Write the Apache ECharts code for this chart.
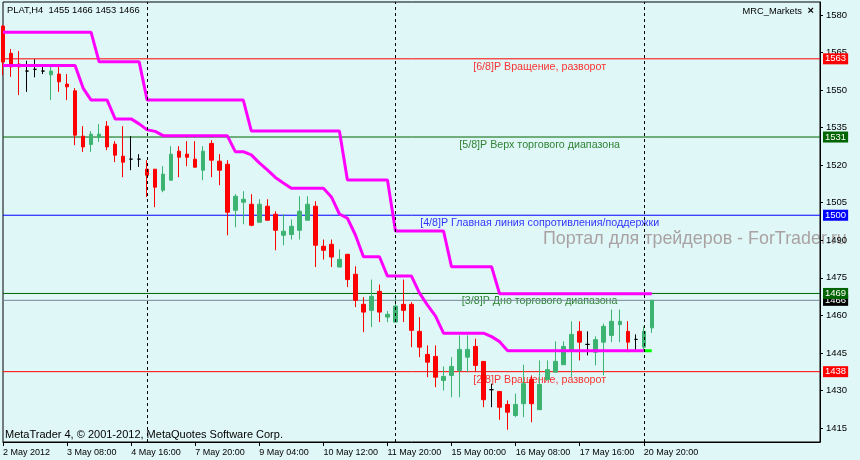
<!DOCTYPE html>
<html><head><meta charset="utf-8">
<script src="https://cdn.jsdelivr.net/npm/echarts@6/dist/echarts.min.js"></script>
<style>html,body{margin:0;padding:0;background:#E0F7F7}#c{width:860px;height:460px}</style>
</head><body><div id="c"></div>
<script>
const categories = [
"2 May 2012","2 May 04:00","2 May 08:00","2 May 12:00","2 May 16:00","2 May 20:00",
"3 May 00:00","3 May 04:00","3 May 08:00","3 May 12:00","3 May 16:00","3 May 20:00",
"4 May 00:00","4 May 04:00","4 May 08:00","4 May 12:00","4 May 16:00","4 May 20:00",
"6 May 20:00",
"7 May 00:00","7 May 04:00","7 May 08:00","7 May 12:00","7 May 16:00","7 May 20:00",
"8 May 00:00","8 May 04:00","8 May 08:00","8 May 12:00","8 May 16:00","8 May 20:00",
"9 May 00:00","9 May 04:00","9 May 08:00","9 May 12:00","9 May 16:00","9 May 20:00",
"10 May 00:00","10 May 04:00","10 May 08:00","10 May 12:00","10 May 16:00","10 May 20:00",
"11 May 00:00","11 May 04:00","11 May 08:00","11 May 12:00","11 May 16:00","11 May 20:00",
"13 May 20:00",
"14 May 00:00","14 May 04:00","14 May 08:00","14 May 12:00","14 May 16:00","14 May 20:00",
"15 May 00:00","15 May 04:00","15 May 08:00","15 May 12:00","15 May 16:00","15 May 20:00",
"16 May 00:00","16 May 04:00","16 May 08:00","16 May 12:00","16 May 16:00","16 May 20:00",
"17 May 00:00","17 May 04:00","17 May 08:00","17 May 12:00","17 May 16:00","17 May 20:00",
"18 May 00:00","18 May 04:00","18 May 08:00","18 May 12:00","18 May 16:00","18 May 20:00",
"20 May 20:00","21 May 00:00",
"21 May 04:00","21 May 08:00","21 May 12:00","21 May 16:00","21 May 20:00",
"22 May 00:00","22 May 04:00","22 May 08:00","22 May 12:00","22 May 16:00","22 May 20:00",
"23 May 00:00","23 May 04:00","23 May 08:00","23 May 12:00","23 May 16:00","23 May 20:00",
"24 May 00:00","24 May 04:00","24 May 08:00","24 May 12:00"
];
const opens  = [1575.6,1564.7,1560.4,1557.6,1558.3,1557.6,1556.1,1556.4,1552.4,1549.7,1531.6,1528.3,1531.3,1535.6,1528.4,1523.6,1522.4,1522.4,1518.4,1518.4,1510.0,1514.0,1525.6,1524.4,1522.4,1518.0,1528.7,1521.6,1520.4,1502.0,1505.2,1504.4,1497.2,1503.6,1500.4,1492.0,1492.3,1494.0,1498.0,1503.6,1487.6,1488.4,1479.3,1484.4,1476.4,1464.4,1462.0,1469.6,1459.3,1457.3,1464.4,1464.4,1453.6,1444.4,1443.6,1434.0,1436.0,1438.0,1443.3,1447.6,1441.6,1430.3,1429.6,1424.4,1420.0,1424.7,1434.3,1422.3,1434.3,1437.3,1440.3,1446.0,1453.6,1448.4,1445.3,1449.3,1452.0,1456.3,1453.6,1450.4,1447.3,1455];
const highs  = [1576.0,1566.4,1565.6,1561.7,1562.3,1559.3,1560.4,1559.6,1556.4,1550.8,1535.6,1533.6,1536.4,1537.6,1529.6,1535.6,1531.6,1524.4,1522.0,1518.4,1519.6,1527.6,1527.6,1529.6,1529.6,1527.6,1530.0,1524.4,1522.0,1508.4,1509.6,1508.4,1506.4,1506.4,1501.6,1500.4,1498.3,1507.6,1507.6,1505.6,1490.3,1490.3,1486.3,1484.4,1479.6,1467.3,1474.3,1472.3,1461.7,1467.6,1474.3,1465.3,1459.3,1448.0,1448.0,1439.6,1443.3,1452.0,1452.0,1450.7,1441.6,1432.7,1429.6,1426.0,1428.7,1440.3,1436.0,1442.0,1442.0,1449.6,1449.6,1457.6,1457.6,1453.6,1451.6,1456.7,1462.3,1462.3,1457.7,1452.4,1455.6,1466];
const lows   = [1556.0,1555.3,1548.0,1549.3,1555.1,1556.4,1546.0,1549.3,1546.0,1528.0,1525.3,1525.3,1529.3,1526.0,1521.2,1515.2,1518.0,1519.3,1507.3,1503.2,1509.2,1514.0,1515.2,1519.6,1519.2,1514.0,1515.2,1512.0,1492.0,1495.2,1496.4,1495.6,1497.2,1498.0,1486.0,1488.0,1490.3,1490.3,1498.0,1479.3,1482.3,1479.3,1479.3,1471.3,1463.3,1453.3,1455.3,1457.3,1457.3,1457.3,1457.3,1447.3,1443.3,1435.3,1431.3,1430.0,1427.3,1427.3,1437.3,1437.3,1423.3,1423.3,1418.3,1414.3,1419.3,1419.3,1417.3,1422.3,1434.3,1437.3,1440.3,1435.3,1442.0,1444.0,1440.0,1436.0,1449.3,1449.3,1445.3,1446.0,1445.7,1453];
const closes = [1561.2,1559.3,1559.3,1557.6,1558.3,1557.6,1557.6,1553.3,1551.3,1532.0,1527.3,1532.4,1532.4,1527.3,1524.0,1521.2,1522.4,1522.4,1516.0,1511.2,1516.4,1524.4,1523.2,1523.2,1519.2,1525.6,1522.0,1518.0,1501.2,1507.6,1506.4,1496.0,1504.4,1498.0,1494.0,1493.6,1495.6,1501.6,1504.4,1488.0,1486.0,1483.3,1482.4,1474.3,1466.0,1461.3,1467.6,1461.3,1460.4,1463.7,1462.0,1454.0,1447.3,1441.3,1435.3,1435.6,1439.6,1446.4,1446.4,1440.0,1426.3,1430.3,1423.3,1421.3,1424.4,1432.7,1424.7,1432.4,1438.3,1441.6,1447.6,1452.4,1449.3,1448.4,1450.3,1455.6,1457.6,1457.6,1449.3,1450.4,1453.6,1466];
const mrcUpper = [1573.1,1573.1,1573.1,1573.1,1573.1,1573.1,1573.1,1573.1,1573.1,1573.1,1573.1,1573.1,
1561.3,1561.3,1561.3,1561.3,1561.3,1561.3,
1546.0,1546.0,1546.0,1546.0,1546.0,1546.0,1546.0,1546.0,1546.0,1546.0,1546.0,1546.0,1546.0,
1533.7,1533.7,1533.7,1533.7,1533.7,1533.7,1533.7,1533.7,1533.7,1533.7,1533.7,1533.7,
1514.1,1514.1,1514.1,1514.1,1514.1,1514.1,
1493.7,1493.7,1493.7,1493.7,1493.7,1493.7,1493.7,
1479.4,1479.4,1479.4,1479.4,1479.4,1479.4,
1468.6,1468.6,1468.6,1468.6,1468.6,1468.6,1468.6,1468.6,1468.6,1468.6,1468.6,1468.6,1468.6,1468.6,1468.6,1468.6,1468.6,1468.6,1468.6,1468.6];
const mrcLower = [1559.8,1559.8,1559.8,1559.8,1559.8,1559.8,1559.8,1559.8,1559.8,1559.8,
1550.8,1546.0,1546.0,1546.0,1538.5,1538.5,1538.5,1536.5,1534.1,1533.5,
1531.8,1531.8,1531.8,1531.8,1531.8,1531.8,1531.8,1531.8,1531.8,
1525.4,1525.4,1524.1,1520.9,1518.1,1515.1,1512.9,
1510.8,1510.8,1510.8,1510.8,1510.8,
1507.3,1500.5,1498.8,1492.1,
1483.4,1483.4,1483.4,
1475.7,1475.7,1475.7,1475.7,
1468.9,1464.1,1459.7,
1452.9,1452.9,1452.9,1452.9,1452.9,1452.9,
1451.5,1449.5,
1445.9,1445.9,1445.9,1445.9,1445.9,1445.9,1445.9,1445.9,1445.9,1445.9,1445.9,1445.9,1445.9,1445.9,1445.9,1445.9,1445.9,1445.9];
const mrcTailBars = ["20 May 20:00","21 May 00:00"];
const mrcTailValues = [1445.9,1445.9];
const levelValues = [1562.5,1531.25,1500,1468.75,1466,1437.5];
const levelLabels = ["1563","1531","1500","1469","1466","1438"];
const levelLineColors = ["#ff0000","#006400","#0000ff","#006400","#778899","#ff0000"];
const levelBoxColors = ["#ff0000","#006400","#0000ff","#006400","#000000","#ff0000"];
const levelZ = [1,1,1,1.2,1.1,1];
const levelTexts = ["[6/8]P Вращение, разворот","[5/8]P Верх торгового диапазона","[4/8]P Главная линия сопротивления/поддержки","[3/8]P Дно торгового диапазона","[2/8]P Вращение, разворот"];
const levelTextValues = [1562.5,1531.25,1500,1468.75,1437.5];
const levelTextColors = ["#ff0000","#006400","#0000ff","#006400","#ff0000"];
const levelTextBar = "16 May 20:00";
const separators = ["6 May 20:00","13 May 20:00","20 May 20:00"];
const yTicks = [1415,1430,1445,1460,1475,1490,1505,1520,1535,1550,1565,1580];

const AX_FONT = "'Liberation Sans',Arial,sans-serif";
const TX_FONT = "'Liberation Sans',Arial,sans-serif";
const showBar = (i) => i % 8 === 0 && i <= 80;
const firstCat = categories[0], lastCat = categories[categories.length-1];

const chart = echarts.init(document.getElementById('c'), null, {renderer:'canvas'});
const candleData = opens.map((o,i)=>[o, closes[i], lows[i], highs[i]]);

const levelSeries = levelValues.map((v,i)=>({
  type:'line', silent:true, z:levelZ[i], symbol:'none', animation:false,
  data:[[firstCat, v],[lastCat, v]],
  lineStyle:{color:levelLineColors[i], width:1, type:'solid'},
  emphasis:{disabled:true},
  endLabel:{show:true, formatter:levelLabels[i], color:'#fff', backgroundColor:levelBoxColors[i],
    padding:[1,2,0,2], fontSize:9.5, lineHeight:10, fontFamily:AX_FONT, distance:3}
}));

chart.setOption({
  animation:false,
  backgroundColor:'#E0F7F7',
  grid:{left:3,right:40,top:2,bottom:18,show:true,borderColor:'#000',borderWidth:1,backgroundColor:'transparent'},
  xAxis:{type:'category',data:categories,boundaryGap:false,
    axisLine:{lineStyle:{color:'#000',width:1}},
    axisTick:{interval:(i)=>showBar(i),length:4,lineStyle:{color:'#000'}},
    axisLabel:{interval:(i)=>showBar(i),align:'left',color:'#000',fontSize:9,fontFamily:AX_FONT,margin:6},
    splitLine:{show:false}},
  yAxis:{type:'value',position:'right',min:1409.4,max:1585.2,
    axisLine:{show:true,lineStyle:{color:'#000'}},
    axisTick:{show:true,customValues:yTicks,length:3,lineStyle:{color:'#000'}},
    axisLabel:{customValues:yTicks,formatter:(v)=>String(v),color:'#000',fontSize:9.5,fontFamily:AX_FONT,margin:6},
    splitLine:{show:false}},
  series:[
    ...levelSeries,
    {type:'line',data:[],z:1,silent:true,
      markLine:{silent:true,symbol:['none','none'],animation:false,
        lineStyle:{color:'#000',width:1,type:[3,3]},label:{show:false},
        data:separators.map(s=>({xAxis:s}))}},
    {type:'scatter',z:1,silent:true,symbolSize:1,itemStyle:{color:'rgba(0,0,0,0)'},
      data:levelTexts.map((t,i)=>({value:[levelTextBar,levelTextValues[i]],
        label:{show:true,position:'bottom',distance:2,formatter:t,color:levelTextColors[i],fontSize:10.7,fontFamily:TX_FONT}}))},
    {type:'candlestick',z:2,data:candleData,barWidth:4,silent:true,clip:true,
      itemStyle:{color:'#3CB371',color0:'#ff0000',borderColor:'#3CB371',borderColor0:'#ff0000',borderColorDoji:'#000000',borderWidth:1}},
    {type:'line',z:3,data:mrcUpper,symbol:'none',silent:true,lineStyle:{color:'#ff00ff',width:3}},
    {type:'line',z:3,data:mrcLower,symbol:'none',silent:true,lineStyle:{color:'#ff00ff',width:3}},
    {type:'line',z:3,data:mrcTailBars.map((b,i)=>[b,mrcTailValues[i]]),symbol:'none',silent:true,lineStyle:{color:'#00ff00',width:3}}
  ],
  graphic:[
    {type:'text',left:543,top:230,z:-1,style:{text:'Портал для трейдеров - ForTrader.ru',fill:'#aaa2a2',font:"17.9px "+TX_FONT}},
    {type:'text',left:7,top:6,z:10,style:{text:'PLAT,H4  1455 1466 1453 1466',fill:'#000',font:"9.4px "+TX_FONT}},
    {type:'text',right:58,top:7,z:10,style:{text:'MRC_Markets',fill:'#000',font:"9.3px "+TX_FONT}},
    {type:'text',right:46,top:5,z:10,style:{text:'×',fill:'#000',font:"bold 11px "+TX_FONT}},
    {type:'text',left:5,top:429,z:10,style:{text:'MetaTrader 4, © 2001-2012, MetaQuotes Software Corp.',fill:'#000',font:"11px "+TX_FONT}}
  ]
});
</script></body></html>
